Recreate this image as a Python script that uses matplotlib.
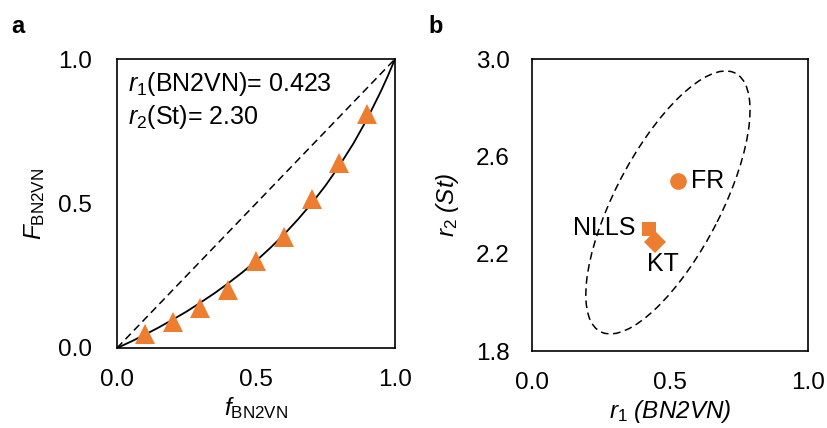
import numpy as np
import matplotlib
matplotlib.use("Agg")
import matplotlib.pyplot as plt
from matplotlib.patches import Ellipse

plt.rcParams['font.family'] = ['Liberation Sans', 'DejaVu Sans']
plt.rcParams['mathtext.fontset'] = 'custom'
plt.rcParams['mathtext.rm'] = 'Liberation Sans'
plt.rcParams['mathtext.it'] = 'Liberation Sans:italic'
plt.rcParams['mathtext.bf'] = 'Liberation Sans:bold'

# panel a: feed fraction vs copolymer fraction
f_feed = [0.1, 0.2, 0.3, 0.4, 0.5, 0.6, 0.7, 0.8, 0.9]
F_copol = [0.05, 0.09, 0.14, 0.20, 0.30, 0.385, 0.515, 0.64, 0.81]

# fitted curve
f_fit = [0.0, 0.05, 0.1, 0.15, 0.2, 0.25, 0.3, 0.35, 0.4, 0.45, 0.5, 0.55,
         0.6, 0.65, 0.7, 0.75, 0.8, 0.85, 0.9, 0.95, 0.975, 1.0]
F_fit = [0.0, 0.022, 0.046, 0.071, 0.098, 0.126, 0.157, 0.189, 0.224, 0.261,
         0.301, 0.345, 0.392, 0.444, 0.500, 0.562, 0.631, 0.707, 0.793, 0.890,
         0.943, 1.0]

r1_text = "0.423"
r2_text = "2.30"

# panel b: reactivity ratio estimates
methods = ["FR", "NLLS", "KT"]
r1_vals = [0.53, 0.423, 0.447]
r2_vals = [2.50, 2.30, 2.25]
markers = ["o", "s", "D"]

# confidence ellipse: center, full width, full height, angle (deg)
ell_center = (0.4925, 2.4105)
ell_width = 1.170
ell_height = 0.391
ell_angle = 66.0

orange = "#ED7D31"
fs = 17.5
fs_note = 18

fig = plt.figure(figsize=(8.28, 4.28), dpi=100)

W, H = 828, 428
def px_axes(l, t, r, b):
    return fig.add_axes([l / W, (H - b) / H, (r - l) / W, (b - t) / H])

# ---- panel a ----
ax = px_axes(117, 59, 395, 348)
ax.plot([0, 1], [0, 1], color='black', lw=1.1, dashes=(5, 3))
ax.plot(f_fit, F_fit, color='black', lw=1.3)
ax.plot(f_feed, F_copol, linestyle='none', marker='^', ms=15, color=orange,
        markeredgewidth=0)
ax.set_xlim(0, 1)
ax.set_ylim(0, 1)
ax.set_xticks([0, 0.5, 1.0])
ax.set_yticks([0, 0.5, 1.0])
ax.set_xticklabels(["0.0", "0.5", "1.0"])
ax.set_yticklabels(["0.0", "0.5", "1.0"])
ax.tick_params(length=0, labelsize=fs)
ax.tick_params(axis='x', pad=15)
ax.tick_params(axis='y', pad=18)
ax.set_xlabel(r"$\it{f}_{\rm BN2VN}$", fontsize=fs, labelpad=3)
ax.set_ylabel(r"$\it{F}_{\rm BN2VN}$", fontsize=fs, labelpad=8)
ax.text(0.04, 0.89, r"$r_1$(BN2VN)= " + r1_text, transform=ax.transAxes,
        fontsize=fs_note, va='baseline')
ax.text(0.04, 0.775, r"$r_2$(St)= " + r2_text, transform=ax.transAxes,
        fontsize=fs_note, va='baseline')
for s in ax.spines.values():
    s.set_linewidth(1.2)

# ---- panel b ----
bx = px_axes(532, 59, 808, 351)
bx.add_patch(Ellipse(ell_center, ell_width, ell_height, angle=ell_angle,
                     fill=False, edgecolor='black', lw=1.1,
                     linestyle=(0, (5, 3))))
sizes = {"o": 12, "s": 10, "D": 11}
for m, x, y, mk in zip(methods, r1_vals, r2_vals, markers):
    bx.plot(x, y, linestyle='none', marker=mk, ms=sizes[mk], color=orange,
            markeredgewidth=0)
bx.text(0.575, 2.50, "FR", fontsize=fs_note, ha='left', va='center')
bx.text(0.375, 2.305, "NLLS", fontsize=fs_note, ha='right', va='center')
bx.text(0.415, 2.158, "KT", fontsize=fs_note, ha='left', va='center')
bx.set_xlim(0, 1)
bx.set_ylim(1.8, 3.0)
bx.set_xticks([0, 0.5, 1.0])
bx.set_yticks([1.8, 2.2, 2.6, 3.0])
bx.set_xticklabels(["0.0", "0.5", "1.0"])
bx.set_yticklabels(["1.8", "2.2", "2.6", "3.0"])
bx.tick_params(length=0, labelsize=fs)
bx.tick_params(axis='x', pad=15)
bx.tick_params(axis='y', pad=16)
bx.set_xlabel(r"$r_1$ (BN2VN)", fontsize=fs, style='italic', labelpad=3)
bx.set_ylabel(r"$r_2$ (St)", fontsize=fs, style='italic', labelpad=11)
for s in bx.spines.values():
    s.set_linewidth(1.2)

fig.text(11 / W, 1 - 33 / H, "a", fontsize=17, fontweight='bold',
         va='baseline', ha='left')
fig.text(428 / W, 1 - 33 / H, "b", fontsize=17, fontweight='bold',
         va='baseline', ha='left')

fig.savefig("out.png", dpi=100)
